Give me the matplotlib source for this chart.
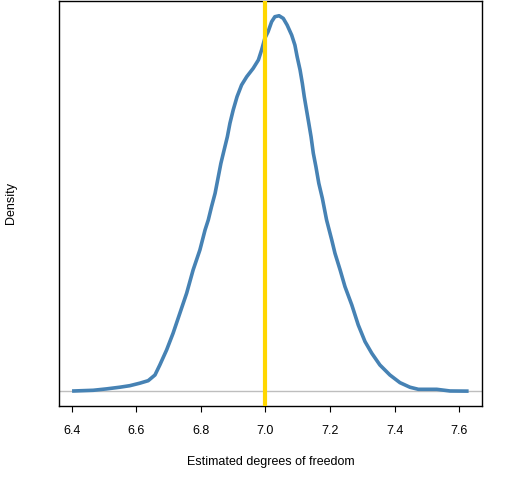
import numpy as np
import matplotlib
matplotlib.use("Agg")
import matplotlib.pyplot as plt

plt.rcParams["font.family"] = ["Liberation Sans", "DejaVu Sans"]

# density curve
dof = [6.407, 6.467, 6.508, 6.549, 6.580, 6.611, 6.637, 6.658, 6.673, 6.694,
       6.714, 6.735, 6.756, 6.776, 6.797, 6.813, 6.823, 6.833, 6.844, 6.854,
       6.862, 6.872, 6.882, 6.890, 6.900, 6.912, 6.926, 6.942, 6.962, 6.978,
       6.988, 6.998, 7.008, 7.019, 7.029, 7.042, 7.055, 7.067, 7.081, 7.091,
       7.098, 7.107, 7.114, 7.120, 7.127, 7.134, 7.141, 7.148, 7.156, 7.165,
       7.176, 7.189, 7.205, 7.215, 7.231, 7.246, 7.267, 7.287, 7.308, 7.329,
       7.354, 7.385, 7.416, 7.447, 7.473, 7.530, 7.571, 7.623]
density = [0.002, 0.007, 0.017, 0.029, 0.040, 0.058, 0.076, 0.117, 0.189, 0.297,
           0.417, 0.561, 0.705, 0.872, 1.016, 1.160, 1.232, 1.327, 1.423, 1.543,
           1.639, 1.735, 1.830, 1.927, 2.022, 2.118, 2.202, 2.262, 2.322, 2.382,
           2.454, 2.538, 2.585, 2.657, 2.693, 2.700, 2.681, 2.633, 2.561, 2.489,
           2.405, 2.310, 2.214, 2.118, 2.022, 1.927, 1.830, 1.711, 1.615, 1.495,
           1.387, 1.232, 1.088, 0.992, 0.872, 0.752, 0.621, 0.477, 0.357, 0.273,
           0.189, 0.117, 0.062, 0.029, 0.014, 0.014, 0.002, 0.001]
true_dof = 7.0
xticks = [6.4, 6.6, 6.8, 7.0, 7.2, 7.4, 7.6]

fig = plt.figure(figsize=(5.12, 4.8), dpi=100)
ax = fig.add_axes([59 / 512, 1 - 406 / 480, 423 / 512, 405 / 480])

ax.axhline(0, color="#bebebe", lw=1.0, zorder=1)
ax.plot(dof, density, color="#4682b4", lw=2.6, zorder=2, solid_joinstyle="round")
ax.axvline(true_dof, color="#ffd700", lw=3.0, zorder=3)

ax.set_xlim(6.361, 7.670)
ax.set_ylim(-0.106, 2.806)
ax.set_yticks([])
ax.set_xticks(xticks)
ax.set_xticklabels(["%.1f" % t for t in xticks])
ax.tick_params(axis="x", direction="out", length=4.5, width=0.8, pad=9, labelsize=9)
for s in ax.spines.values():
    s.set_linewidth(1.0)

ax.set_xlabel("Estimated degrees of freedom", fontsize=9, labelpad=14)
ax.set_ylabel("Density", fontsize=9, labelpad=30)

fig.savefig("out.png", dpi=100)
